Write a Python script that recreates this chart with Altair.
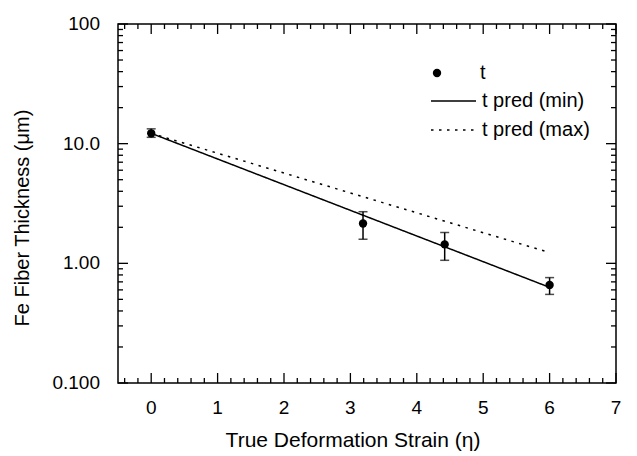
import altair as alt
import pandas as pd

# ---- data ----
strain = [0.0, 3.19, 4.42, 6.0]
thickness = [12.2, 2.15, 1.44, 0.66]
err_low = [11.3, 1.59, 1.06, 0.55]
err_high = [13.3, 2.70, 1.81, 0.76]

pred_strain = [0.0, 6.0]
pred_min = [12.2, 0.63]
pred_max = [12.2, 1.23]

x_major = [0, 1, 2, 3, 4, 5, 6, 7]
x_major_labels = ["0", "1", "2", "3", "4", "5", "6", "7"]
x_minor = [round(-0.4 + 0.2 * i, 1) for i in range(38) if (i - 2) % 5 != 0]
y_major = [0.1, 1, 10, 100]
y_major_labels = ["0.100", "1.00", "10.0", "100"]
y_minor = [m * 10 ** e for e in (-1, 0, 1) for m in range(2, 10)]

series_names = ["t pred (min)", "t pred (max)"]
x_title = "True Deformation Strain (η)"
y_title = "Fe Fiber Thickness (μm)"

df_pts = pd.DataFrame({"strain": strain, "t": thickness, "lo": err_low,
                       "hi": err_high, "label": ["t"] * len(strain)})
df_pred = pd.DataFrame({
    "strain": pred_strain + pred_strain,
    "t": pred_min + pred_max,
    "series": [series_names[0]] * 2 + [series_names[1]] * 2,
})

FONT = "Liberation Sans"
W, H = 498, 359
MAJ, MIN = 10, 5

xscale = alt.Scale(domain=[-0.5, 7], nice=False, zero=False)
yscale = alt.Scale(type="log", domain=[0.1, 100], nice=False)


def X(field):
    return alt.X(field, scale=xscale, axis=None)


def Y(field):
    return alt.Y(field, scale=yscale, axis=None)


# inward-pointing frame ticks (tick marks), positioned by the shared scales
def x_ticks(values, center_y, length):
    return alt.Chart(pd.DataFrame({"xv": values})).mark_tick(
        color="black", thickness=1.3, size=length, opacity=1
    ).encode(x=X("xv:Q"), y=alt.value(center_y))


def y_ticks(values, center_x, length):
    return alt.Chart(pd.DataFrame({"yv": values})).mark_tick(
        color="black", thickness=1.3, size=length, opacity=1
    ).encode(y=Y("yv:Q"), x=alt.value(center_x))


tick_layers = [
    x_ticks(x_major, H - MAJ / 2, MAJ), x_ticks(x_minor, H - MIN / 2, MIN),
    x_ticks(x_major, MAJ / 2, MAJ), x_ticks(x_minor, MIN / 2, MIN),
    y_ticks(y_major, MAJ / 2, MAJ), y_ticks(y_minor, MIN / 2, MIN),
    y_ticks(y_major, W - MAJ / 2, MAJ), y_ticks(y_minor, W - MIN / 2, MIN),
]

err = alt.Chart(df_pts).mark_errorbar(ticks=True, size=9, thickness=1.5, color="black").encode(
    x=X("strain:Q"), y=Y("lo:Q"), y2="hi:Q",
)

lines = alt.Chart(df_pred).mark_line(color="black", strokeWidth=1.5).encode(
    x=X("strain:Q"), y=Y("t:Q"),
    strokeDash=alt.StrokeDash(
        "series:N",
        scale=alt.Scale(domain=series_names, range=[[1, 0], [2.5, 5.5]]),
        legend=alt.Legend(orient="none", legendX=312, legendY=67, title=None,
                          symbolType="stroke", symbolSize=2025, symbolStrokeWidth=1.5,
                          symbolStrokeColor="black", clipHeight=20, rowPadding=9,
                          labelFont=FONT, labelFontSize=20, labelColor="black",
                          labelOffset=5, labelLimit=300, padding=0),
    ),
)

points = alt.Chart(df_pts).mark_point(filled=True, size=70, color="black", opacity=1).encode(
    x=X("strain:Q"), y=Y("t:Q"),
    shape=alt.Shape(
        "label:N",
        scale=alt.Scale(domain=["t"], range=["circle"]),
        legend=alt.Legend(orient="none", legendX=309, legendY=39, title=None,
                          symbolSize=70, symbolFillColor="black", symbolStrokeColor="black",
                          labelFont=FONT, labelFontSize=20, labelColor="black",
                          labelOffset=33, padding=0),
    ),
)

# tick labels, placed by the same scales
x_lab = alt.Chart(pd.DataFrame({"lx": x_major, "s": x_major_labels})).mark_text(
    font=FONT, fontSize=19, color="black", align="center", baseline="top"
).encode(x=X("lx:Q"), y=alt.value(H + 16), text="s:N")

y_lab = alt.Chart(pd.DataFrame({"ly": y_major, "s": y_major_labels})).mark_text(
    font=FONT, fontSize=19, color="black", align="right", baseline="middle"
).encode(y=Y("ly:Q"), x=alt.value(-18), text="s:N")

# axis titles
x_tit = alt.Chart(pd.DataFrame({"s": [x_title]})).mark_text(
    font=FONT, fontSize=21, color="black", align="center", baseline="middle"
).encode(x=alt.value(235), y=alt.value(H + 58), text="s:N")

y_tit = alt.Chart(pd.DataFrame({"s": [y_title]})).mark_text(
    font=FONT, fontSize=20, color="black", align="center", baseline="middle", angle=270
).encode(x=alt.value(-95), y=alt.value(194), text="s:N")

chart = alt.layer(*tick_layers, err, lines, points, x_lab, y_lab, x_tit, y_tit).properties(
    width=W, height=H,
    autosize=alt.AutoSizeParams(type="none"),
    padding={"left": 118, "top": 24, "right": 21, "bottom": 73},
    background="white",
).configure_view(stroke="black", strokeWidth=1.5)

chart.save("out.html", embed_options={"renderer": "svg", "actions": False})
